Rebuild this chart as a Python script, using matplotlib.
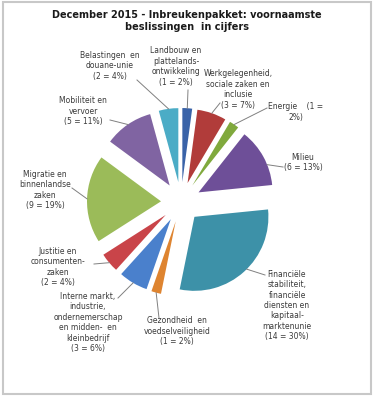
import math
import matplotlib
matplotlib.use("Agg")
import matplotlib.pyplot as plt
from matplotlib.patches import Rectangle

# ---- data ----
categories = [
    "Landbouw en\nplattelands-\nontwikkeling",
    "Werkgelegenheid,\nsociale zaken en\ninclusie",
    "Energie",
    "Milieu",
    "Financiële\nstabiliteit,\nfinanciële\ndiensten en\nkapitaal-\nmarktenunie",
    "Gezondheid  en\nvoedselveiligheid",
    "Interne markt,\nindustrie,\nondernemerschap\nen midden-  en\nkleinbedrijf",
    "Justitie en\nconsumenten-\nzaken",
    "Migratie en\nbinnenlandse\nzaken",
    "Mobiliteit en\nvervoer",
    "Belastingen  en\ndouane-unie",
]
counts = [1, 3, 1, 6, 14, 1, 3, 2, 9, 5, 2]
percent_labels = ["2%", "7%", "2%", "13%", "30%", "2%", "6%", "4%", "19%", "11%", "4%"]
colors = ["#3A63A8", "#B13C3A", "#80A93D", "#6E4F98", "#3D91A8", "#DE8430",
          "#4A80CC", "#C94449", "#9BBB59", "#8064A2", "#4BACC6"]
title = "December 2015 - Inbreukenpakket: voornaamste\nbeslissingen  in cijfers"

W, H = 375, 400
fig = plt.figure(figsize=(W / 100, H / 100), dpi=100)
ax = fig.add_axes([0, 0, 1, 1])
ax.set_xlim(0, W)
ax.set_ylim(0, H)
ax.axis("off")

def Y(y):
    return H - y

# border
ax.add_patch(Rectangle((3, Y(394)), 368, 392, fill=False, edgecolor="#C8C8C8", lw=1.5))

# pie
cx, cy, R, EX = 181, Y(202), 74, 20
wedges, _ = ax.pie(counts, colors=colors, startangle=90, counterclock=False,
                   center=(cx, cy), radius=R, explode=[EX] * len(counts),
                   wedgeprops=dict(linewidth=0), frame=True)
ax.set_xlim(0, W)
ax.set_ylim(0, H)
ax.set_aspect("auto")
ax.axis("off")

ax.text(187, Y(21), title, ha="center", va="center", fontsize=7, fontweight="bold",
        color="#1a1a1a", linespacing=1.15)

TXT = "#3a3a3a"
# label layout: (text x, text y center, leader start x, y, hit angle clockwise from top or None)
layout = [
    (176, 66.5, 188, 90, None),
    (238, 89.5, 220, 103, None),
    (296, 112, 267, 108, None),
    (303, 162.5, 283, 167, 68),
    (287, 305.5, 265, 275, 135),
    (177, 331, 159, 318, None),
    (88, 322.5, 118, 298, None),
    (58, 267, 94, 264, None),
    (45, 190, 72, 188, None),
    (83, 111, 110, 120, None),
    (110, 66, 137, 80, None),
]
total = sum(counts)
cum = 0
for i, (cat, n, pl) in enumerate(zip(categories, counts, percent_labels)):
    mid = (cum + n / 2) / total * 360
    cum += n
    tx, ty, lx, ly, hit = layout[i]
    ang = math.radians(hit if hit is not None else mid)
    wc = wedges[i].center
    px = wc[0] + R * math.sin(ang)
    py = wc[1] + R * math.cos(ang)
    if cat == "Energie":
        txt = "Energie    (1 =\n%s)" % pl
    else:
        txt = "%s\n(%d = %s)" % (cat, n, pl)
    ax.text(tx, Y(ty), txt, ha="center", va="center", fontsize=5.5,
            color=TXT, linespacing=1.2)
    ax.plot([lx, px], [Y(ly), py], color="#808080", lw=0.7)

fig.savefig("out.png", dpi=100, facecolor="white")
